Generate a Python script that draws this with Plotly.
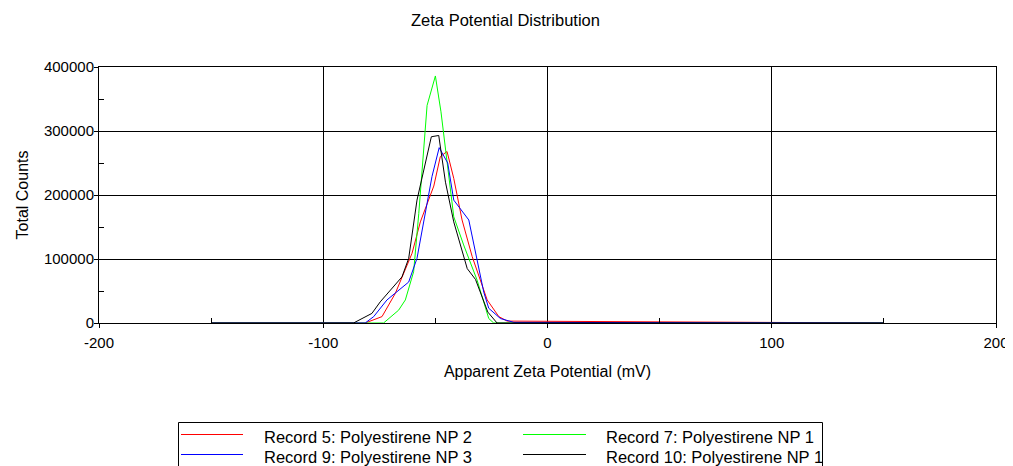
import plotly.graph_objects as go

# ---- data ----
red_x = [-150, -81.3, -73.8, -67.9, -60.4, -56.7, -50.7, -47.8, -44.8, -41.8, -38.1, -33.6, -26.9, -21.7, -18, 150]
red_y = [0, 0, 10000, 46000, 109000, 158000, 214000, 260000, 268000, 226000, 161000, 104000, 36000, 10000, 3000, 0]

green_x = [-150, -73.1, -66.4, -63.4, -59.7, -57.4, -53.7, -50, -47.5, -41.8, -37.4, -31.4, -26.2, -24, 150]
green_y = [0, 0, 20000, 36000, 80000, 171000, 340000, 386000, 330000, 166000, 122000, 67000, 7000, 0, 0]

blue_x = [-150, -81.3, -77.5, -71.6, -61.9, -58.2, -51.5, -48.3, -44.5, -41.8, -35.1, -30.7, -28.4, -26.2, -21, -15, 150]
blue_y = [0, 0, 10000, 36000, 64000, 101000, 229000, 274000, 250000, 192000, 161000, 83000, 48000, 23000, 7000, 1000, 0]

black_x = [-150, -86.5, -78.3, -74.6, -64.9, -61.9, -58.2, -51.8, -48.5, -45.5, -41.8, -35.8, -32.1, -26.6, -22.5, 150]
black_y = [0, 0, 15000, 33000, 72000, 101000, 192000, 291000, 293000, 220000, 158000, 85000, 68000, 17000, 0, 0]

names = ["Record 5: Polyestirene NP 2", "Record 7: Polyestirene NP 1",
         "Record 9: Polyestirene NP 3", "Record 10: Polyestirene NP 1"]
colors = ["#ff0000", "#00ff00", "#0000ff", "#000000"]

x_ticks = [-200, -100, 0, 100, 200]
y_ticks = [0, 100000, 200000, 300000, 400000]

FONT = "Arial, 'Liberation Sans', sans-serif"

# The page body has an 8px margin, so the figure is drawn at (8, 8).
OFF = 8
W, H = 1013 - OFF, 466 - OFF
# target plot area in page pixels: x 99..996, y 67..323
PL, PR, PT, PB = 99, 996, 67, 323
L, R, T, B = PL - OFF, W - (PR - OFF), PT - OFF, H - (PB - OFF)
pw, ph = PR - PL, PB - PT


def px(x):
    return (x - PL) / pw


def py(y):
    return (PB - y) / ph


fig = go.Figure()
series = [(red_x, red_y, "legend"), (green_x, green_y, "legend2"),
          (blue_x, blue_y, "legend3"), (black_x, black_y, "legend4")]
for i, ((xs, ys, lg), nm, c) in enumerate(zip(series, names, colors)):
    grp = "g%d" % i
    fig.add_trace(go.Scatter(x=xs, y=ys, mode="lines", name=nm, legendgroup=grp,
                             showlegend=False, line=dict(color=c, width=1)))
    # legend entry for the same group (its swatch is drawn as a longer shape below)
    fig.add_trace(go.Scatter(x=[None], y=[None], mode="lines", name=nm, legendgroup=grp,
                             showlegend=True, legend=lg, hoverinfo="skip",
                             line=dict(color=c, width=0)))

legend_common = dict(
    orientation="v", bgcolor="rgba(0,0,0,0)", borderwidth=0,
    font=dict(family=FONT, size=16.5, color="#000000"),
    xanchor="left", yanchor="middle", itemwidth=55,
)

ROW1, ROW2 = 437, 457
swatches = [(181, 243, 434.5, colors[0]), (523, 586, 434.5, colors[1]),
            (181, 243, 454.5, colors[2]), (523, 586, 454.5, colors[3])]
shapes = [dict(type="rect", xref="paper", yref="paper",
               x0=px(178.5), x1=px(822.5), y0=py(422.5), y1=py(490),
               line=dict(color="#000000", width=1), fillcolor="rgba(0,0,0,0)")]
for x0, x1, yy, c in swatches:
    shapes.append(dict(type="line", xref="paper", yref="paper",
                       x0=px(x0), x1=px(x1), y0=py(yy), y1=py(yy),
                       line=dict(color=c, width=1)))

fig.update_layout(
    width=W, height=H,
    margin=dict(l=L, r=R, t=T, b=B, pad=0, autoexpand=False),
    paper_bgcolor="white", plot_bgcolor="white",
    font=dict(family=FONT, size=16, color="#000000"),
    title=dict(text="Zeta Potential Distribution", x=(505.5 - OFF) / W, xanchor="center",
               y=1 - (20 - OFF) / H, yanchor="middle", font=dict(size=16.5)),
    showlegend=True,
    legend=dict(x=px(199), y=py(ROW1), **legend_common),
    legend2=dict(x=px(541), y=py(ROW1), **legend_common),
    legend3=dict(x=px(199), y=py(ROW2), **legend_common),
    legend4=dict(x=px(541), y=py(ROW2), **legend_common),
    xaxis=dict(
        range=[-200, 200], tickvals=x_ticks, ticktext=[str(v) for v in x_ticks],
        showgrid=True, gridcolor="#000000", gridwidth=1,
        showline=True, linecolor="#000000", linewidth=1, mirror=True,
        ticks="outside", ticklen=4, tickcolor="#000000", ticklabelstandoff=2,
        minor=dict(tickvals=[-150, -50, 50, 150], ticks="inside", ticklen=5,
                   tickcolor="#000000", showgrid=False),
        zeroline=False,
        title=dict(text="Apparent Zeta Potential (mV)", standoff=15, font=dict(size=16)),
        tickfont=dict(size=15),
    ),
    yaxis=dict(
        range=[0, 400000], tickvals=y_ticks, ticktext=[str(v) for v in y_ticks],
        showgrid=True, gridcolor="#000000", gridwidth=1,
        showline=True, linecolor="#000000", linewidth=1, mirror=True,
        ticks="outside", ticklen=4, tickcolor="#000000", ticklabelstandoff=-3,
        minor=dict(tickvals=[50000, 150000, 250000, 350000], ticks="inside", ticklen=5,
                   tickcolor="#000000", showgrid=False),
        zeroline=False,
        title=dict(text="Total Counts", standoff=11, font=dict(size=16)),
        tickfont=dict(size=15),
    ),
    shapes=shapes,
)

fig.write_html("out.html")
